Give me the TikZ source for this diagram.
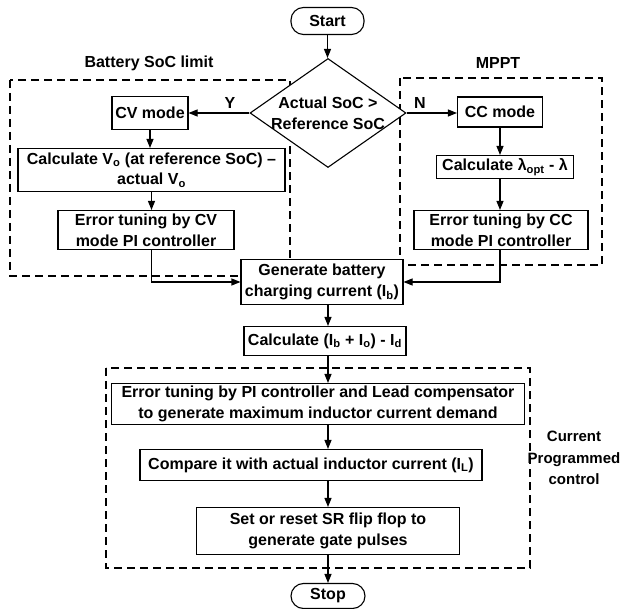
\documentclass[tikz,border=0pt]{standalone}
\usepackage{fontspec}
\setmainfont{Liberation Sans}
\usetikzlibrary{arrows.meta,shapes.geometric,calc}
\newcommand\sbs[1]{\textsubscript{#1}}
\tikzset{
 box/.style={draw=black, line width=1.1pt, fill=white, align=center, inner sep=0pt},
 term/.style={box, rounded corners=12.5pt},
 arr/.style={line width=1.1pt, -{Triangle[length=9pt,width=7pt]}},
 grp/.style={draw=black, line width=1.1pt, dash pattern=on 8pt off 5pt},
 lbl/.style={align=center, inner sep=0pt},
}
\begin{document}
\begin{tikzpicture}[x=1pt,y=-1pt, font=\fontsize{16}{20.7}\selectfont\bfseries]
\useasboundingbox (0,0) rectangle (621,609);
% group frames
\draw[grp] (10,80) rectangle (290,276);
\draw[grp] (400,78) rectangle (602,265);
\draw[grp] (106,368) rectangle (530,568);
\node[lbl] (battlab) at (149,63) {Battery SoC limit};
\node[lbl] (mpptlab) at (498,63) {MPPT};
\node[lbl, font=\fontsize{15}{21.5}\selectfont\bfseries] (cpclab) at (574,458) {Current\\Programmed\\control};
% nodes
\node[term, minimum width=73pt, minimum height=27pt] (start) at (327.5,21) {Start};
\node[box, diamond, minimum width=156pt, minimum height=109pt,
      label={[lbl]center:Actual SoC >\\Reference SoC}] (dia) at (328,113) {};
\node[box, minimum width=76pt, minimum height=33pt] (cv) at (150,113) {CV mode};
\node[box, minimum width=267pt, minimum height=43pt] (calcv) at (151.5,170) {Calculate V\sbs{o} (at reference SoC) --\\actual V\sbs{o}};
\node[box, minimum width=176pt, minimum height=39pt] (errcv) at (146,230) {Error tuning by CV\\mode PI controller};
\node[box, minimum width=85pt, minimum height=30pt] (cc) at (500,112) {CC mode};
\node[box, minimum width=137pt, minimum height=23pt] (calcl) at (505,167) {Calculate λ\sbs{opt} - λ};
\node[box, minimum width=174pt, minimum height=39pt] (errcc) at (501,230) {Error tuning by CC\\mode PI controller};
\node[box, minimum width=162pt, minimum height=45pt] (gen) at (322,282) {Generate battery\\charging current (I\sbs{b})};
\node[box, minimum width=162pt, minimum height=29pt] (calci) at (325,341) {Calculate (I\sbs{b} + I\sbs{o}) - I\sbs{d}};
\node[box, minimum width=413pt, minimum height=41pt] (errpi) at (318,404) {Error tuning by PI controller and Lead compensator\\to generate maximum inductor current demand};
\node[box, minimum width=342pt, minimum height=31pt] (cmp) at (311,465) {Compare it with actual inductor current (I\sbs{L})};
\node[box, minimum width=263pt, minimum height=47pt] (sr) at (328,531) {Set or reset SR flip flop to\\generate gate pulses};
\node[term, minimum width=74pt, minimum height=25pt] (stop) at (328,596) {Stop};
\node[lbl] (ylab) at (230,103) {Y};
\node[lbl] (nlab) at (420,103) {N};
% connectors
\draw[arr] (start.south) -- (start.south |- dia.north);
\draw[arr] (dia.west) -- (cv.east);
\draw[arr] (dia.east) -- (dia.east -| cc.west);
\draw[arr] (cv.south) -- (cv.south |- calcv.north);
\draw[arr] (calcv.south) -- (calcv.south |- errcv.north);
\draw[arr] (errcv.south -| calcv.south) |- (gen.west);
\draw[arr] (cc.south) -- (cc.south |- calcl.north);
\draw[arr] (calcl.south -| cc.south) -- (cc.south |- errcc.north);
\draw[arr] (errcc.south -| cc.south) |- (gen.east);
\draw[arr] (gen.south -| dia.south) -- (dia.south |- calci.north);
\draw[arr] (calci.south -| dia.south) -- (dia.south |- errpi.north);
\draw[arr] (errpi.south -| dia.south) -- (dia.south |- cmp.north);
\draw[arr] (cmp.south -| dia.south) -- (dia.south |- sr.north);
\draw[arr] (sr.south -| dia.south) -- (dia.south |- stop.north);
\end{tikzpicture}
\end{document}
